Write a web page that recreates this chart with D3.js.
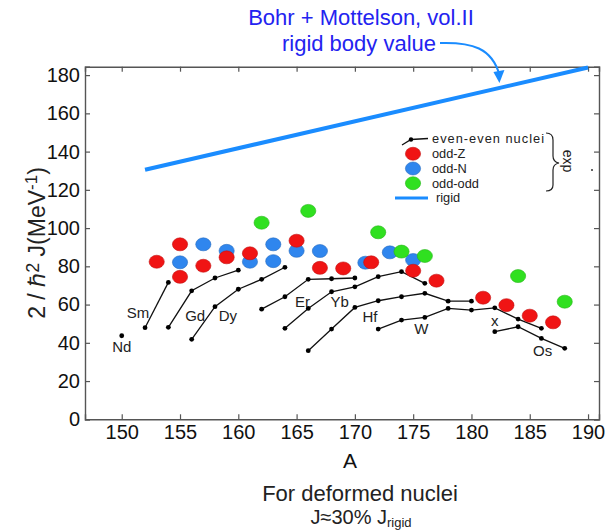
<!DOCTYPE html>
<html>
<head>
<meta charset="utf-8">
<script src="https://cdn.jsdelivr.net/npm/d3@7"></script>
<style>
  html, body { margin: 0; padding: 0; background: #fff; }
  svg { display: block; font-family: "Liberation Sans", Arial, Helvetica, sans-serif; }
</style>
</head>
<body>
<svg id="chart" width="608" height="530"></svg>
<script>
// ---------------- DATA ----------------
const xTicks = [150, 155, 160, 165, 170, 175, 180, 185, 190];
const yTicks = [0, 20, 40, 60, 80, 100, 120, 140, 160, 180];

// odd-Z (red)
const oddZ_A = [153, 155, 155, 157, 159, 161, 165, 167, 169, 171.4, 175, 177, 181, 183, 185, 187];
const oddZ_J = [82.4, 91.5, 74.5, 80.3, 84.7, 86.8, 93.4, 79.2, 78.9, 82.1, 77.7, 72.5, 63.6, 59.7, 54.2, 50.7];
// odd-N (blue)
const oddN_A = [155, 157, 159, 161, 163, 163, 165, 167, 170.9, 173, 175];
const oddN_J = [82.1, 91.5, 88.1, 82.4, 91.5, 82.7, 88.1, 88.0, 81.9, 87.3, 83.3];
// odd-odd (green)
const oddOdd_A = [162, 166, 172, 174, 176, 184, 188];
const oddOdd_J = [102.8, 109.0, 97.8, 87.7, 85.4, 74.9, 61.5];

// even-even isotope chains
const chainNames = ["Nd", "Sm", "Gd", "Dy", "Er", "Yb", "Hf", "W", "Os"];
const Nd_A = [150];                                   const Nd_J = [43.7];
const Sm_A = [152, 154];                              const Sm_J = [47.9, 71.6];
const Gd_A = [154, 156, 158, 160];                    const Gd_J = [48.1, 67.2, 73.9, 78.0];
const Dy_A = [156, 158, 160, 162, 164];               const Dy_J = [41.8, 58.9, 68.0, 73.2, 79.5];
const Er_A = [162, 164, 166, 168, 170];               const Er_J = [57.6, 64.1, 73.2, 73.5, 73.9];
const Yb_A = [164, 166, 168, 170, 172, 174, 176];     const Yb_J = [47.6, 58.0, 66.7, 69.3, 74.6, 77.2, 71.1];
const Hf_A = [166, 168, 170, 172, 174, 176, 178, 180]; const Hf_J = [35.9, 47.2, 58.5, 62.0, 64.1, 65.9, 61.8, 61.8];
const W_A  = [172, 174, 176, 178, 180, 182, 184, 186]; const W_J  = [47.2, 51.9, 53.3, 58.0, 57.1, 58.3, 52.4, 47.6];
const Os_A = [182, 184, 186, 188];                    const Os_J = [45.8, 48.4, 42.3, 37.1];

// element label anchors (data space)
const labelText = ["Nd", "Sm", "Gd", "Dy", "Er", "Yb", "Hf", "W", "x", "Os"];
const labelA = [150.0, 151.4, 156.3, 159.1, 165.5, 168.7, 171.3, 175.7, 182.0, 186.1];
const labelJ = [37.9, 55.6, 54.0, 54.0, 61.3, 61.3, 53.5, 47.2, 51.4, 35.7];

// rigid body value (Bohr & Mottelson)
const rigid_A = [152, 190];
const rigid_J = [130.5, 184.0];

const legendLabels = ["even-even nuclei", "odd-Z", "odd-N", "odd-odd", "rigid"];

// ---------------- CHART ----------------
const svg = d3.select("#chart");
const x = d3.scaleLinear().domain([146.85, 190.94]).range([85, 599]);
const y = d3.scaleLinear().domain([0, 184.4]).range([419.3, 66.7]);

const colRed = "#f01414", colBlue = "#2f86ee", colGreen = "#30e020";
const colRigid = "#1a8cff", colAnn = "#2323f0";
const frameCol = "#555";

// axes
const gx = svg.append("g").attr("transform", `translate(0,${y(0)})`)
  .call(d3.axisBottom(x).tickValues(xTicks).tickSize(-5).tickPadding(6).tickFormat(d3.format("d")));
const gxTop = svg.append("g").attr("transform", `translate(0,${y(184.4)})`)
  .call(d3.axisTop(x).tickValues(xTicks).tickSize(-5).tickFormat(""));
const gy = svg.append("g").attr("transform", `translate(${x(146.85)},0)`)
  .call(d3.axisLeft(y).tickValues(yTicks).tickSize(-5).tickPadding(5).tickFormat(d3.format("d")));
const gyR = svg.append("g").attr("transform", `translate(${x(190.94)},0)`)
  .call(d3.axisRight(y).tickValues(yTicks).tickSize(-5).tickFormat(""));
[gx, gxTop, gy, gyR].forEach(g => {
  g.selectAll(".domain").attr("stroke", frameCol).attr("stroke-width", 1.4);
  g.selectAll(".tick line").attr("stroke", frameCol).attr("stroke-width", 1.2);
  g.selectAll(".tick text").attr("font-size", 20).attr("fill", "#111")
    .attr("font-family", "'Liberation Sans', Arial, sans-serif");
});
gx.selectAll(".tick text").attr("dy", "0.71em");

// axis titles
svg.append("text").attr("x", 350).attr("y", 468).attr("text-anchor", "middle")
  .attr("font-size", 21).attr("fill", "#111").text("A");
svg.append("text").attr("x", 360).attr("y", 501).attr("text-anchor", "middle")
  .attr("font-size", 22).attr("fill", "#222").text("For deformed nuclei");
const tj = svg.append("text").attr("x", 361).attr("y", 524).attr("text-anchor", "middle")
  .attr("font-size", 20).attr("fill", "#222");
tj.append("tspan").text("J≈30% J");
tj.append("tspan").attr("font-size", 13).attr("dy", 3).text("rigid");

const yt = svg.append("text").attr("transform", "translate(45,243) rotate(-90)")
  .attr("text-anchor", "middle").attr("font-size", 23).attr("fill", "#222");
yt.append("tspan").text("2 / ℏ");
yt.append("tspan").attr("font-size", 18).attr("dy", -6).text("2");
yt.append("tspan").attr("dy", 6).text(" J(MeV");
yt.append("tspan").attr("font-size", 17).attr("dy", -8).text("-1");
yt.append("tspan").attr("dy", 8).text(")");

// rigid line
const lineGen = d3.line().x(d => x(d[0])).y(d => y(d[1]));
svg.append("path").datum(rigid_A.map((a, i) => [a, rigid_J[i]]))
  .attr("d", lineGen).attr("fill", "none").attr("stroke", colRigid).attr("stroke-width", 4);

// even-even chains
const chainData = [[Nd_A, Nd_J], [Sm_A, Sm_J], [Gd_A, Gd_J], [Dy_A, Dy_J], [Er_A, Er_J],
  [Yb_A, Yb_J], [Hf_A, Hf_J], [W_A, W_J], [Os_A, Os_J]];
chainData.forEach(([as, js], k) => {
  const pts = as.map((a, i) => [a, js[i]]);
  const g = svg.append("g").attr("class", "chain-" + chainNames[k]);
  g.append("path").datum(pts).attr("d", lineGen).attr("fill", "none")
    .attr("stroke", "#111").attr("stroke-width", 1.3);
  g.selectAll("circle").data(pts).join("circle")
    .attr("cx", d => x(d[0])).attr("cy", d => y(d[1])).attr("r", 2.4).attr("fill", "#000");
});

// odd nuclei ellipses
function ellipses(as, js, col) {
  svg.append("g").selectAll("ellipse").data(as.map((a, i) => [a, js[i]])).join("ellipse")
    .attr("cx", d => x(d[0])).attr("cy", d => y(d[1])).attr("rx", 7.6).attr("ry", 6.5)
    .attr("fill", col).attr("stroke", d3.color(col).darker(0.6)).attr("stroke-width", 0.6);
}
ellipses(oddN_A, oddN_J, colBlue);
ellipses(oddZ_A, oddZ_J, colRed);
ellipses(oddOdd_A, oddOdd_J, colGreen);

// element labels
svg.append("g").selectAll("text").data(labelText).join("text")
  .attr("x", (d, i) => x(labelA[i])).attr("y", (d, i) => y(labelJ[i]))
  .attr("dy", "0.35em").attr("text-anchor", "middle").attr("font-size", 15).attr("fill", "#222")
  .text(d => d);

// legend
const lg = svg.append("g").attr("font-size", 12.8).attr("fill", "#222");
const ly = [139, 153.75, 168.5, 183.25, 198];
lg.append("path").attr("d", `M402,145 L411,139.5 L428,138.5`).attr("fill", "none")
  .attr("stroke", "#111").attr("stroke-width", 1.3);
lg.append("circle").attr("cx", 411).attr("cy", 139.5).attr("r", 2.2).attr("fill", "#000");
[[colRed, 1], [colBlue, 2], [colGreen, 3]].forEach(([c, i]) => {
  lg.append("ellipse").attr("cx", 413).attr("cy", ly[i]).attr("rx", 7.6).attr("ry", 6.5)
    .attr("fill", c).attr("stroke", d3.color(c).darker(0.6)).attr("stroke-width", 0.6);
});
lg.append("line").attr("x1", 395).attr("x2", 428).attr("y1", ly[4]).attr("y2", ly[4])
  .attr("stroke", colRigid).attr("stroke-width", 3);
legendLabels.forEach((t, i) => {
  lg.append("text").attr("x", i === 4 ? 436 : 432).attr("y", ly[i]).attr("dy", "0.35em")
    .attr("textLength", i === 0 ? 112 : null).text(t);
});
// brace
lg.append("path").attr("d", "M546,133 Q553,133 553,140 L553,156 Q553,162 559,163 Q553,164 553,170 L553,185 Q553,191 546,191")
  .attr("fill", "none").attr("stroke", "#222").attr("stroke-width", 1.2);
lg.append("text").attr("transform", "translate(563,161) rotate(90)").attr("text-anchor", "middle")
  .attr("font-size", 14).text("exp");
lg.append("circle").attr("cx", 592).attr("cy", 170).attr("r", 1).attr("fill", "#333");

// annotation
svg.append("text").attr("x", 361).attr("y", 25).attr("text-anchor", "middle")
  .attr("font-size", 22).attr("fill", colAnn).text("Bohr + Mottelson, vol.II");
svg.append("text").attr("x", 359).attr("y", 51).attr("text-anchor", "middle")
  .attr("font-size", 22).attr("fill", colAnn).text("rigid body value");
const tipX = x(182.4), tipY = y(rigid_J[0] + (182.4 - rigid_A[0]) * (rigid_J[1] - rigid_J[0]) / (rigid_A[1] - rigid_A[0])) - 5;
svg.append("path").attr("d", `M440,43 C472,42 492,48 ${tipX},${tipY - 8}`)
  .attr("fill", "none").attr("stroke", colRigid).attr("stroke-width", 2);
svg.append("path").attr("d", `M${tipX - 6},${tipY - 11} L${tipX},${tipY} L${tipX + 5},${tipY - 13} Z`)
  .attr("fill", colRigid);
</script>
</body>
</html>
